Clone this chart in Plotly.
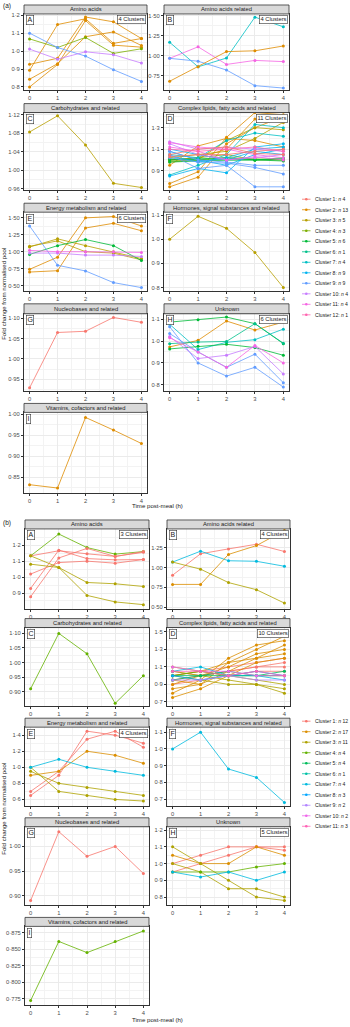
import plotly.graph_objects as go

W, H = 350, 1027
TIMES = [0, 1, 2, 3, 4]

COLORS_A = ["#F8766D", "#DE8C00", "#B79F00", "#7CAE00", "#00BA38", "#00C08B",
            "#00BFC4", "#00B4F0", "#619CFF", "#C77CFF", "#F564E3", "#FF64B0"]
COLORS_B = ["#F8766D", "#DB8E00", "#AEA200", "#64B200", "#00BD5C", "#00C1A7",
            "#00BADE", "#00A6FF", "#B385FF", "#EF67EB", "#FF63B6"]
N_A = [4, 13, 5, 3, 6, 1, 4, 9, 9, 4, 4, 1]
N_B = [12, 17, 11, 4, 4, 1, 4, 3, 2, 2, 3]

TITLES = ["Amino acids", "Amino acids related", "Carbohydrates and related",
          "Complex lipids, fatty acids and related", "Energy metabolism and related",
          "Hormones, signal substances and related", "Nucleobases and related",
          "Unknown", "Vitamins, cofactors and related"]
LETTERS = ["A", "B", "C", "D", "E", "F", "G", "H", "I"]

# ---------------- (a) ----------------
a_A_cl = [2, 2, 2, 2, 4, 9, 10]
a_A_val = [[0.893, 1.148, 1.180, 1.043, 1.070],
           [0.926, 0.960, 1.190, 1.163, 1.070],
           [0.843, 0.930, 1.080, 1.107, 1.031],
           [0.800, 0.925, 1.170, 1.033, 1.022],
           [1.068, 1.020, 1.076, 0.987, 1.013],
           [1.100, 1.020, 0.972, 0.896, 0.831],
           [1.011, 0.955, 0.996, 0.980, 0.933]]
a_B_cl = [7, 11, 9, 2]
a_B_val = [[1.166, 0.860, 0.970, 1.480, 1.360],
           [0.966, 1.110, 0.890, 0.940, 0.925],
           [0.966, 0.930, 0.820, 0.625, 0.595],
           [0.680, 0.860, 1.050, 1.060, 1.120]]
a_C_cl = [3]
a_C_val = [[1.083, 1.118, 1.055, 0.972, 0.963]]
a_D_cl = [2, 2, 2, 2, 3, 3, 4, 4, 5, 5, 5, 7, 7, 8, 8, 8, 8, 9, 9, 9, 10, 10, 11, 11, 1, 1, 12]
a_D_val = [[0.780, 0.890, 1.210, 1.440, 1.420],
           [0.750, 0.840, 1.150, 1.300, 1.400],
           [0.950, 1.130, 1.200, 1.180, 1.120],
           [1.000, 1.020, 1.100, 1.380, 1.350],
           [0.980, 1.000, 1.180, 1.300, 1.280],
           [1.020, 1.050, 1.080, 1.200, 1.350],
           [1.000, 1.020, 1.050, 1.000, 1.000],
           [0.990, 1.000, 1.020, 1.010, 1.000],
           [1.010, 1.000, 1.000, 1.000, 1.010],
           [0.980, 0.990, 1.000, 1.000, 0.990],
           [1.000, 1.010, 1.020, 1.000, 1.020],
           [0.860, 0.950, 1.050, 1.330, 1.300],
           [1.050, 1.020, 1.180, 1.250, 1.220],
           [0.850, 0.920, 0.880, 1.120, 1.150],
           [1.080, 1.000, 0.950, 1.050, 1.100],
           [1.100, 1.050, 1.000, 1.080, 1.050],
           [1.040, 0.980, 1.020, 1.100, 1.120],
           [1.050, 0.920, 0.950, 0.750, 0.750],
           [1.020, 0.980, 0.970, 0.930, 0.870],
           [1.080, 1.000, 0.980, 0.950, 0.950],
           [1.170, 1.100, 1.120, 1.100, 1.080],
           [1.150, 1.050, 1.000, 1.020, 1.050],
           [1.160, 1.120, 1.100, 1.050, 1.020],
           [1.120, 1.080, 1.000, 1.030, 1.000],
           [1.030, 1.050, 1.050, 1.080, 1.100],
           [1.050, 1.100, 1.120, 1.060, 1.050],
           [1.100, 1.080, 1.100, 1.120, 1.080]]
a_E_cl = [2, 2, 3, 3, 5, 9, 10, 11]
a_E_val = [[0.740, 0.920, 1.500, 1.520, 1.380],
           [0.700, 0.720, 1.350, 1.420, 1.310],
           [1.070, 1.190, 1.090, 1.000, 0.900],
           [1.080, 1.160, 1.000, 0.980, 0.880],
           [0.960, 1.090, 1.180, 1.090, 0.870],
           [1.380, 0.800, 0.716, 0.544, 0.470],
           [0.980, 0.980, 0.950, 0.950, 0.930],
           [1.020, 1.000, 1.000, 1.000, 0.990]]
a_F_cl = [3]
a_F_val = [[1.000, 1.095, 1.045, 0.945, 0.800]]
a_G_cl = [1]
a_G_val = [[0.929, 1.065, 1.068, 1.102, 1.090]]
a_H_cl = [5, 2, 7, 6, 5, 9, 9, 10, 11]
a_H_val = [[1.086, 1.097, 1.109, 1.079, 0.988],
           [0.973, 1.003, 1.091, 1.050, 1.086],
           [1.076, 0.961, 0.994, 1.006, 1.054],
           [0.988, 0.995, 0.998, 1.079, 0.990],
           [0.964, 0.976, 0.985, 0.970, 0.935],
           [1.034, 0.950, 0.880, 0.940, 0.810],
           [1.065, 0.900, 0.840, 0.880, 0.790],
           [1.020, 0.920, 0.935, 0.975, 0.850],
           [1.015, 0.950, 0.880, 0.980, 0.900]]
a_I_cl = [2]
a_I_val = [[0.832, 0.824, 0.992, 0.962, 0.930]]

a_ncl = ["4 Clusters", "4 Clusters", None, "11 Clusters", "6 Clusters", None, None, "6 Clusters", None]
a_ticks = [[0.8, 0.9, 1.0, 1.1, 1.2], [0.75, 1.0, 1.25, 1.5], [0.96, 1.0, 1.04, 1.08, 1.12],
           [0.9, 1.1, 1.3], [0.5, 0.75, 1.0, 1.25, 1.5], [0.8, 0.9, 1.0, 1.1],
           [0.95, 1.0, 1.05, 1.1], [0.8, 0.9, 1.0, 1.1], [0.85, 0.9, 0.95, 1.0]]
a_dec = [1, 2, 2, 1, 2, 1, 2, 1, 2]
a_range = [[0.785, 1.207], [0.575, 1.52], [0.957, 1.125], [0.718, 1.44], [0.422, 1.584],
           [0.786, 1.112], [0.92, 1.111], [0.77, 1.124], [0.812, 1.004]]

# ---------------- (b) ----------------
b_A_cl = [4, 1, 1, 1, 1, 3, 3]
b_A_val = [[1.133, 1.270, 1.185, 1.144, 1.160],
           [0.929, 1.169, 1.116, 1.108, 1.110],
           [0.877, 1.120, 1.180, 1.129, 1.160],
           [1.019, 1.091, 1.100, 1.087, 1.110],
           [1.133, 1.165, 1.146, 1.130, 1.155],
           [1.081, 1.060, 0.966, 0.958, 0.941],
           [1.133, 1.060, 0.885, 0.844, 0.827]]
b_B_cl = [1, 7, 2, 3]
b_B_val = [[0.904, 1.175, 1.237, 1.296, 1.204],
           [1.070, 1.208, 1.087, 1.080, 1.017],
           [0.787, 0.787, 1.167, 1.279, 1.470],
           [1.070, 0.980, 0.810, 0.720, 0.550]]
b_C_cl = [4]
b_C_val = [[0.910, 1.100, 1.030, 0.860, 0.955]]
b_D_cl = [1, 1, 1, 1, 2, 2, 2, 2, 2, 2, 3, 3, 3, 4, 5, 5, 7, 8, 9, 10, 11]
b_D_val = [[0.950, 1.000, 1.050, 1.100, 1.150],
           [1.000, 1.050, 1.100, 1.150, 1.200],
           [0.900, 0.950, 1.000, 1.050, 1.050],
           [1.050, 1.000, 1.050, 1.100, 1.100],
           [0.850, 0.900, 1.150, 1.300, 1.450],
           [0.800, 0.950, 1.200, 1.350, 1.400],
           [0.900, 1.000, 1.100, 1.250, 1.300],
           [0.950, 0.900, 1.050, 1.200, 1.350],
           [1.000, 1.050, 1.150, 1.200, 1.250],
           [0.750, 0.850, 1.000, 1.150, 1.200],
           [1.100, 1.050, 1.000, 0.950, 0.900],
           [1.050, 1.000, 0.950, 0.900, 0.850],
           [1.000, 0.950, 0.900, 0.900, 0.800],
           [1.000, 1.050, 1.000, 1.000, 1.000],
           [0.950, 1.000, 1.000, 1.000, 1.000],
           [1.000, 1.000, 1.050, 1.000, 1.050],
           [1.050, 1.100, 1.000, 1.000, 0.950],
           [1.000, 0.950, 1.000, 1.050, 1.000],
           [0.950, 0.950, 1.000, 0.950, 0.950],
           [1.100, 1.050, 1.050, 1.000, 1.000],
           [1.050, 1.050, 1.000, 1.050, 1.000]]
b_E_cl = [1, 1, 2, 3, 3, 7]
b_E_val = [[0.650, 0.900, 1.450, 1.400, 1.300],
           [0.700, 0.950, 1.350, 1.450, 1.250],
           [0.900, 0.950, 1.200, 1.150, 1.050],
           [1.000, 0.700, 0.650, 0.600, 0.580],
           [0.950, 0.800, 0.750, 0.700, 0.650],
           [1.000, 1.100, 1.000, 0.950, 0.900]]
b_F_cl = [7]
b_F_val = [[1.000, 1.100, 0.880, 0.830, 0.680]]
b_G_cl = [1]
b_G_val = [[0.890, 1.030, 0.980, 1.000, 0.945]]
b_H_cl = [1, 1, 2, 3, 3, 4, 7]
b_H_val = [[1.000, 1.050, 1.100, 1.100, 1.100],
           [0.950, 1.000, 1.050, 1.100, 1.080],
           [1.050, 1.000, 1.000, 1.100, 1.050],
           [1.100, 1.000, 0.900, 0.800, 0.780],
           [1.000, 0.950, 0.850, 0.850, 0.800],
           [0.950, 0.950, 0.950, 0.980, 1.000],
           [0.950, 0.920, 0.950, 0.900, 0.950]]
b_I_cl = [4]
b_I_val = [[0.772, 0.862, 0.845, 0.862, 0.878]]

b_ncl = ["3 Clusters", "4 Clusters", None, "10 Clusters", "4 Clusters", None, None, "5 Clusters", None]
b_ticks = [[0.9, 1.0, 1.1, 1.2], [0.5, 0.75, 1.0, 1.25], [0.9, 0.95, 1.0, 1.05, 1.1],
           [0.7, 0.9, 1.1, 1.3, 1.5], [0.6, 0.8, 1.0, 1.2, 1.4], [0.7, 0.8, 0.9, 1.0, 1.1],
           [0.9, 0.95, 1.0], [0.8, 0.9, 1.0, 1.1, 1.2], [0.775, 0.8, 0.825, 0.85, 0.875]]
b_dec = [1, 2, 2, 1, 1, 1, 2, 1, 3]
b_range = [[0.802, 1.302], [0.48, 1.49], [0.85, 1.12], [0.65, 1.55], [0.52, 1.5],
           [0.66, 1.13], [0.88, 1.04], [0.75, 1.22], [0.765, 0.885]]

# ---------------- geometry (pixels) ----------------
GEO = {
    "a": dict(cols=[(24, 147), (164, 289)],
              rows=[(3, 12, 88), (102, 111, 189), (202, 211, 290), (303, 313, 391), (403, 412, 493)],
              legend_y0=198, xtitle_y=505, ytitle_y=293, tag_y=4),
    "b": dict(cols=[(25, 149), (167, 290)],
              rows=[(520, 529, 609), (619, 628, 707), (719, 728, 807), (819, 828, 907), (919, 928, 1007)],
              legend_y0=722, xtitle_y=1021, ytitle_y=810, tag_y=523),
}
LEG_DY = 10.55

FONT = "Liberation Sans, Arial, sans-serif"
TXT = "#1A1A1A"


def px(x):
    return x / W


def py(y):
    return 1 - y / H


def fmt(v, d):
    return f"{v:.{d}f}".replace(".", "·")


fig = go.Figure()
shapes = []
annots = []
layout_axes = {}

figures = {
    "a": dict(cl=[a_A_cl, a_B_cl, a_C_cl, a_D_cl, a_E_cl, a_F_cl, a_G_cl, a_H_cl, a_I_cl],
              val=[a_A_val, a_B_val, a_C_val, a_D_val, a_E_val, a_F_val, a_G_val, a_H_val, a_I_val],
              ncl=a_ncl, ticks=a_ticks, dec=a_dec, rng=a_range, colors=COLORS_A, n=N_A),
    "b": dict(cl=[b_A_cl, b_B_cl, b_C_cl, b_D_cl, b_E_cl, b_F_cl, b_G_cl, b_H_cl, b_I_cl],
              val=[b_A_val, b_B_val, b_C_val, b_D_val, b_E_val, b_F_val, b_G_val, b_H_val, b_I_val],
              ncl=b_ncl, ticks=b_ticks, dec=b_dec, rng=b_range, colors=COLORS_B, n=N_B),
}

k = 0
for fid in ["a", "b"]:
    F = figures[fid]
    G = GEO[fid]
    for p in range(9):
        k += 1
        col = p % 2
        row = p // 2
        x0, x1 = G["cols"][col]
        st, yt, yb = G["rows"][row]
        xa = "x" if k == 1 else f"x{k}"
        ya = "y" if k == 1 else f"y{k}"
        ticks = F["ticks"][p]
        step = ticks[1] - ticks[0]
        layout_axes["xaxis" if k == 1 else f"xaxis{k}"] = dict(
            domain=[px(x0), px(x1)], anchor=ya, range=[-0.2, 4.2],
            tickmode="array", tickvals=TIMES, ticktext=[str(t) for t in TIMES],
            showline=True, linecolor="#333333", linewidth=1, mirror=True,
            ticks="outside", ticklen=2, tickwidth=0.6, tickcolor="#333333",
            tickfont=dict(size=5.8, color="#4D4D4D", family=FONT),
            showgrid=True, gridcolor="#EBEBEB", gridwidth=0.6, zeroline=False,
            minor=dict(tickmode="array", tickvals=[0.5, 1.5, 2.5, 3.5], showgrid=True,
                       gridcolor="#F3F3F3", gridwidth=0.4, ticks=""),
        )
        minor_vals = [ticks[0] - step / 2] + [t + step / 2 for t in ticks]
        layout_axes["yaxis" if k == 1 else f"yaxis{k}"] = dict(
            domain=[py(yb), py(yt)], anchor=xa, range=F["rng"][p],
            tickmode="array", tickvals=ticks, ticktext=[fmt(t, F["dec"][p]) for t in ticks],
            showline=True, linecolor="#333333", linewidth=1, mirror=True,
            ticks="outside", ticklen=2, tickwidth=0.6, tickcolor="#333333",
            tickfont=dict(size=5.8, color="#4D4D4D", family=FONT),
            showgrid=True, gridcolor="#EBEBEB", gridwidth=0.6, zeroline=False,
            minor=dict(tickmode="array", tickvals=minor_vals, showgrid=True,
                       gridcolor="#F3F3F3", gridwidth=0.4, ticks=""),
        )
        # data lines
        for c, vals in zip(F["cl"][p], F["val"][p]):
            fig.add_trace(go.Scatter(
                x=TIMES, y=vals, mode="lines+markers", xaxis=xa, yaxis=ya,
                line=dict(color=F["colors"][c - 1], width=0.8),
                marker=dict(color=F["colors"][c - 1], size=3),
                showlegend=False, hoverinfo="skip"))
        # strip
        shapes.append(dict(type="rect", xref="paper", yref="paper",
                           x0=px(x0), x1=px(x1), y0=py(yt), y1=py(st),
                           fillcolor="#D9D9D9", line=dict(color="#333333", width=0.8)))
        annots.append(dict(text=TITLES[p], xref="paper", yref="paper",
                           x=px((x0 + x1) / 2), y=py((st + yt) / 2), xanchor="center", yanchor="middle",
                           showarrow=False, font=dict(size=5.8, color=TXT, family=FONT)))
        # panel letter
        annots.append(dict(text=LETTERS[p], xref="paper", yref="paper",
                           x=px(x0 + 1.5), y=py(yt + 1.5), xanchor="left", yanchor="top",
                           showarrow=False, bgcolor="white", bordercolor="#333333", borderwidth=0.6,
                           borderpad=0.8, font=dict(size=7, color=TXT, family=FONT)))
        if F["ncl"][p]:
            annots.append(dict(text=F["ncl"][p], xref="paper", yref="paper",
                               x=px(x1 - 1), y=py(yt + 1.5), xanchor="right", yanchor="top",
                               showarrow=False, bgcolor="white", bordercolor="#333333", borderwidth=0.6,
                               borderpad=0.8, font=dict(size=5.8, color=TXT, family=FONT)))
    # legend (drawn)
    for i, (colr, n) in enumerate(zip(F["colors"], F["n"])):
        yy = G["legend_y0"] + i * LEG_DY
        shapes.append(dict(type="line", xref="paper", yref="paper",
                           x0=px(302), x1=px(310.5), y0=py(yy), y1=py(yy),
                           line=dict(color=colr, width=0.8)))
        shapes.append(dict(type="circle", xref="paper", yref="paper",
                           x0=px(305.0), x1=px(307.6), y0=py(yy + 1.3), y1=py(yy - 1.3),
                           fillcolor=colr, line=dict(width=0)))
        annots.append(dict(text=f"Cluster {i + 1}: <i>n</i> {n}", xref="paper", yref="paper",
                           x=px(313), y=py(yy), xanchor="left", yanchor="middle", showarrow=False,
                           font=dict(size=5.1, color=TXT, family=FONT)))
    # titles
    annots.append(dict(text="Time post-meal (h)", xref="paper", yref="paper",
                       x=px(157), y=py(G["xtitle_y"]), xanchor="center", yanchor="middle",
                       showarrow=False, font=dict(size=6.1, color=TXT, family=FONT)))
    annots.append(dict(text="Fold change from normalised pool", xref="paper", yref="paper",
                       x=px(4), y=py(G["ytitle_y"]), xanchor="center", yanchor="middle",
                       textangle=-90, showarrow=False, font=dict(size=6.1, color=TXT, family=FONT)))
    annots.append(dict(text=f"({fid})", xref="paper", yref="paper",
                       x=px(1), y=py(G["tag_y"]), xanchor="left", yanchor="middle",
                       showarrow=False, font=dict(size=6.5, color=TXT, family=FONT)))

fig.update_layout(
    width=W, height=H, margin=dict(l=0, r=0, t=0, b=0),
    paper_bgcolor="white", plot_bgcolor="white",
    showlegend=False, shapes=shapes, annotations=annots,
    font=dict(family=FONT),
    **layout_axes,
)
fig.write_html("out.html", config={"displayModeBar": False},
               post_script="document.body.style.margin='0px';document.body.style.overflow='hidden';")
